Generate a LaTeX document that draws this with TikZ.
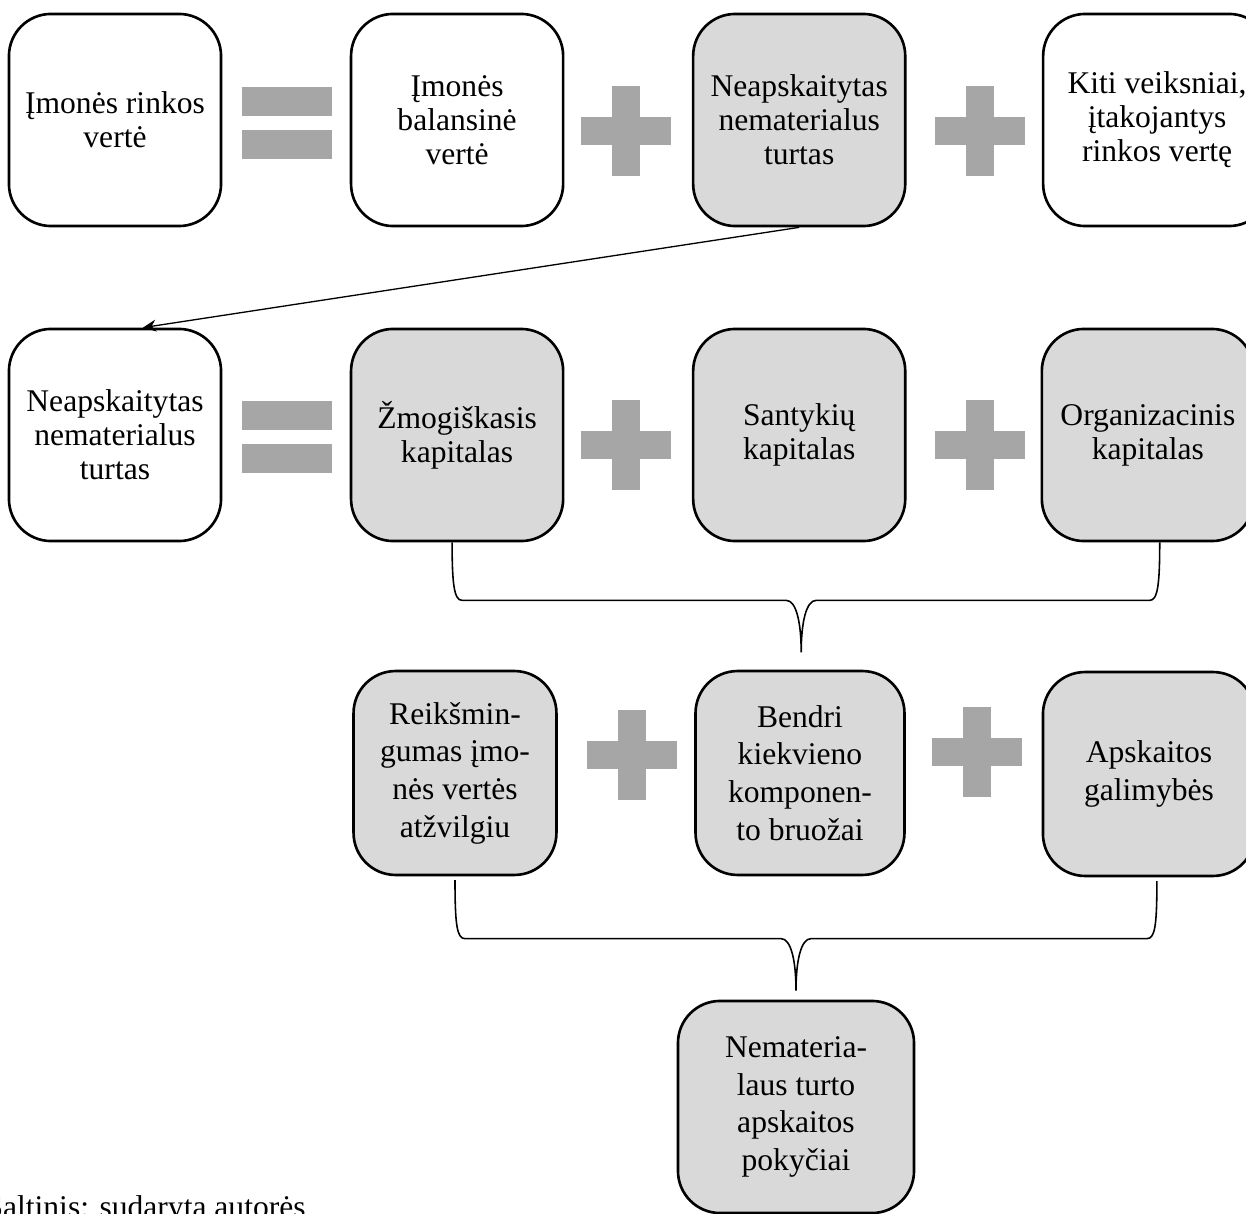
\documentclass[tikz,border=0pt]{standalone}
\usepackage{fontspec}
\setmainfont{Liberation Serif}
\usetikzlibrary{arrows.meta,positioning,calc}

\definecolor{boxgray}{RGB}{217,217,217}
\definecolor{signgray}{RGB}{166,166,166}

\tikzset{
  blok/.style={draw, line width=1pt, rounded corners=16pt, align=center,
    minimum width=80.6pt, minimum height=80.6pt, inner sep=2pt,
    font=\fontsize{12}{12.9}\selectfont},
  pilkas/.style={blok, fill=boxgray},
  aukstas/.style={font=\fontsize{12}{14.3}\selectfont, minimum height=77.5pt},
  skliaustas/.style={line width=0.6pt},
}

\begin{document}
\begin{tikzpicture}[x=0.38pt,y=-0.38pt,node distance=130pt]
  \useasboundingbox (0,0) rectangle (1246,1214);
  % Row 1: market value
  \node[blok]   (rinkos)             at (115,120)          {Įmonės rinkos\\vertė};
  \node[blok]   (balans)  [right of=rinkos]                {Įmonės\\balansinė\\vertė};
  \node[pilkas] (neap)    [right of=balans]                {Neapskaitytas\\nematerialus\\turtas};
  \node[blok, minimum width=86.6pt] (kiti) [right of=neap, xshift=6pt] {Kiti veiksniai,\\įtakojantys\\rinkos vertę};
  % Row 2: intangible assets
  \node[blok]   (neap2)              at (115,435)          {Neapskaitytas\\nematerialus\\turtas};
  \node[pilkas] (zmog)    [right of=neap2]                 {Žmogiškasis\\kapitalas};
  \node[pilkas] (santyk)  [right of=zmog]                  {Santykių\\kapitalas};
  \node[pilkas] (org)     [right of=santyk, xshift=2.5pt]  {Organizacinis\\kapitalas};
  % Row 3: features
  \node[pilkas, aukstas, minimum width=77.1pt] (reiksm) at (455,773) {Reikšmin-\\gumas įmo-\\nės vertės\\atžvilgiu};
  \node[pilkas, aukstas, minimum width=79.4pt] (bendri) at (800,773) {Bendri\\kiekvieno\\komponen-\\to bruožai};
  \node[pilkas, aukstas] (apsk)   at (1149,774)          {Apskaitos\\galimybės};
  % Row 4: result
  \node[pilkas, aukstas, minimum width=89.7pt, minimum height=80.6pt] (pokyc) at (796,1107) {Nemateria-\\laus turto\\apskaitos\\pokyčiai};

  % Equals signs
  \foreach \y in {102,416} {
    \fill[signgray] (242,\y-15) rectangle (332,\y+14);
    \fill[signgray] (242,\y+28) rectangle (332,\y+57);
  }
  % Plus signs
  \foreach \x/\y in {626/131, 980/131, 626/445, 980/445, 632/755, 977/752} {
    \fill[signgray] (\x-45,\y-14) rectangle (\x+45,\y+14);
    \fill[signgray] (\x-14,\y-45) rectangle (\x+14,\y+45);
  }

  % Arrow
  \draw[-{Stealth[length=5pt,width=4.5pt]}, line width=0.5pt] (neap.south) -- ([xshift=10.6pt]neap2.north);

  % Braces
  \coordinate (k1) at ([xshift=-1.9pt]zmog.south);
  \coordinate (k2) at ([xshift=4.5pt]org.south);
  \coordinate (k3) at ($(santyk.south)+(2,110)$);
  \draw[skliaustas] (k1) .. controls +(0,42) and +(-8,0) .. ($(k1 |- k3)+(10,-52)$)
    -- ($(k3)+(-15,-52)$) .. controls +(10,0) and +(0,-30) .. (k3)
    .. controls +(0,-30) and +(-10,0) .. ($(k3)+(15,-52)$)
    -- ($(k2 |- k3)+(-10,-52)$) .. controls +(8,0) and +(0,42) .. (k2);
  \coordinate (k4) at ([yshift=-1.5pt]reiksm.south);
  \coordinate (k5) at ([xshift=3pt,yshift=-1.5pt]apsk.south);
  \coordinate (k6) at ($(pokyc.north)+(0,-9)$);
  \draw[skliaustas] (k4) .. controls +(0,45) and +(-8,0) .. ($(k4 |- k6)+(10,-52)$)
    -- ($(k6)+(-15,-52)$) .. controls +(10,0) and +(0,-30) .. (k6)
    .. controls +(0,-30) and +(-10,0) .. ($(k6)+(15,-52)$)
    -- ($(k5 |- k6)+(-10,-52)$) .. controls +(8,0) and +(0,45) .. (k5);

  % Source
  \node[anchor=base west, inner sep=0pt, font=\fontsize{12}{14}\selectfont] (saltinis) at (-15,1217) {Šaltinis: sudaryta autorės};
\end{tikzpicture}
\end{document}
